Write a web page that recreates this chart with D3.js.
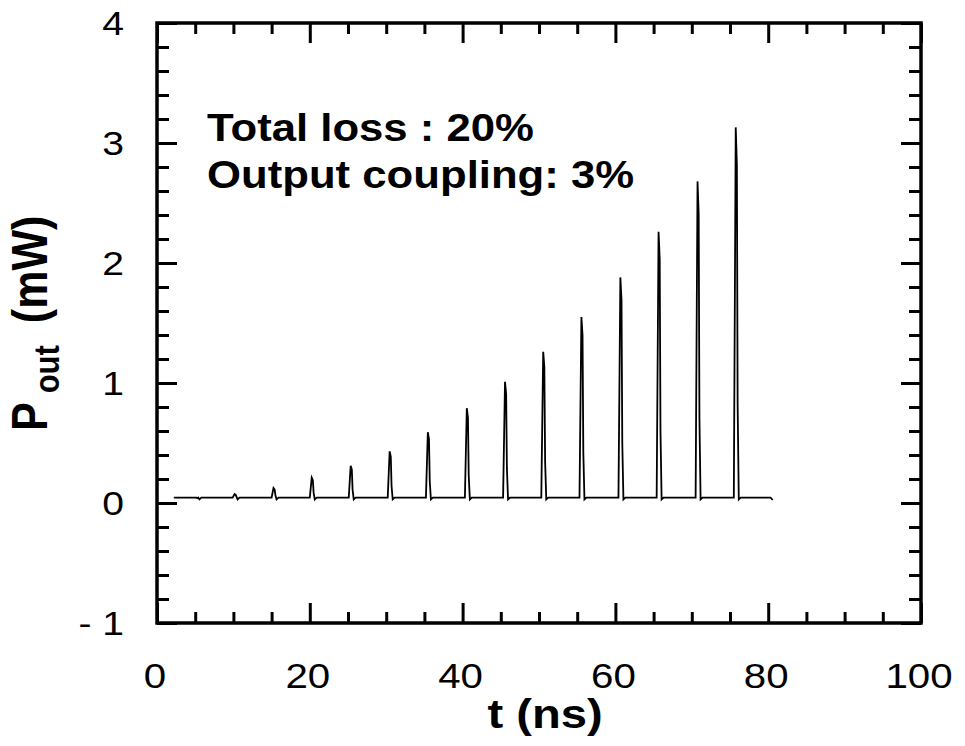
<!DOCTYPE html>
<html>
<head>
<meta charset="utf-8">
<script src="https://cdn.jsdelivr.net/npm/d3@7"></script>
<style>
  body { margin: 0; background: #fff; }
  text { font-family: "Liberation Sans", Arial, sans-serif; fill: #000; }
</style>
</head>
<body>
<div id="chart"></div>
<script>
// pulse train
const pulseTimes = [5.2, 10.2, 15.3, 20.3, 25.4, 30.5, 35.5, 40.6, 45.6, 50.6, 55.6, 60.7, 65.7, 70.8, 75.8];
const pulsePeaks = [0.045, 0.075, 0.125, 0.21, 0.31, 0.43, 0.59, 0.79, 1.01, 1.26, 1.55, 1.88, 2.26, 2.68, 3.13];
const baseLevel = 0.045;
const traceStart = 2.2, traceEnd = 80.6;

const xTicks = [0, 20, 40, 60, 80, 100];
const xTickLabels = ['0', '20', '40', '60', '80', '100'];
const yTicks = [-1, 0, 1, 2, 3, 4];
const yTickLabels = ['- 1', '0', '1', '2', '3', '4'];
const notes = ['Total loss : 20%', 'Output coupling: 3%'];

const W = 965, H = 746;
const stretch = 1.15; // the scan is wider than tall

const x = d3.scaleLinear().domain([0, 100]).range([157, 921]);
const y = d3.scaleLinear().domain([-1, 4]).range([623, 23]);

const svg = d3.select('#chart').append('svg')
    .attr('width', W)
    .attr('height', H);

// build trace points
const pts = [[traceStart, baseLevel]];
pulseTimes.forEach((t, i) => {
    const p = pulsePeaks[i];
    pts.push([t - 0.3, baseLevel]);
    pts.push([t - 0.05, p]);
    pts.push([t + 0.1, p * 0.9]);
    pts.push([t + 0.2, baseLevel + (p - baseLevel) * 0.25]);
    pts.push([t + 0.35, baseLevel - 0.015]);
    pts.push([t + 0.6, baseLevel]);
});
pts.push([traceEnd - 0.3, baseLevel]);
pts.push([traceEnd, baseLevel - 0.02]);

const line = d3.line().x(d => x(d[0])).y(d => y(d[1]));

svg.append('path')
    .datum(pts)
    .attr('d', line)
    .attr('fill', 'none')
    .attr('stroke', '#000')
    .attr('stroke-width', 1.8);

// inward ticks on all four sides
const xMinor = d3.range(0, 101, 5).filter(v => v % 20 !== 0);
const yMinor = d3.range(-1, 4.001, 0.2).filter(v => Math.abs(v - Math.round(v)) > 1e-6);

function ticks(axisFn, scale, vals, size, transform) {
    const g = svg.append('g')
        .attr('transform', transform)
        .call(axisFn(scale).tickValues(vals).tickSize(size).tickFormat(''));
    g.select('.domain').remove();
    g.selectAll('line').attr('stroke', '#000').attr('stroke-width', 3);
}
ticks(d3.axisTop, x, xTicks, 20, `translate(0,${y(-1)})`);
ticks(d3.axisTop, x, xMinor, 11, `translate(0,${y(-1)})`);
ticks(d3.axisBottom, x, xTicks, 20, `translate(0,${y(4)})`);
ticks(d3.axisBottom, x, xMinor, 11, `translate(0,${y(4)})`);
ticks(d3.axisRight, y, yTicks, 20, `translate(${x(0)},0)`);
ticks(d3.axisRight, y, yMinor, 12, `translate(${x(0)},0)`);
ticks(d3.axisLeft, y, yTicks, 20, `translate(${x(100)},0)`);
ticks(d3.axisLeft, y, yMinor, 12, `translate(${x(100)},0)`);

// frame
svg.append('rect')
    .attr('x', x(0)).attr('y', y(4))
    .attr('width', x(100) - x(0)).attr('height', y(-1) - y(4))
    .attr('fill', 'none')
    .attr('stroke', '#000')
    .attr('stroke-width', 3.5);

// tick labels
svg.append('g').selectAll('text')
    .data(xTicks)
    .enter().append('text')
    .attr('transform', d => `translate(${x(d) - 2},688) scale(${stretch},1)`)
    .attr('text-anchor', 'middle')
    .style('font-size', '35px')
    .text((d, i) => xTickLabels[i]);

svg.append('g').selectAll('text')
    .data(yTicks)
    .enter().append('text')
    .attr('transform', d => `translate(124,${y(d) + 12}) scale(${stretch},1)`)
    .attr('text-anchor', 'end')
    .style('font-size', '34px')
    .text((d, i) => yTickLabels[i]);

// axis titles
svg.append('text')
    .attr('transform', `translate(545,728) scale(${stretch},1)`)
    .attr('text-anchor', 'middle')
    .style('font-size', '41px')
    .style('font-weight', 'bold')
    .text('t (ns)');

const yt = svg.append('text')
    .attr('transform', `translate(47,431) scale(${stretch},1) rotate(-90)`)
    .attr('text-anchor', 'start')
    .style('font-size', '43px')
    .style('font-weight', 'bold');
yt.append('tspan').text('P');
yt.append('tspan').attr('dx', 9).attr('dy', 10).style('font-size', '31px').text('out');
yt.append('tspan').attr('dx', 22).attr('dy', -10).text('(mW)');

// annotation
svg.append('g').selectAll('text')
    .data(notes)
    .enter().append('text')
    .attr('transform', (d, i) => `translate(207,${141 + i * 47}) scale(${stretch},1)`)
    .style('font-size', '38px')
    .style('font-weight', 'bold')
    .text(d => d);
</script>
</body>
</html>
